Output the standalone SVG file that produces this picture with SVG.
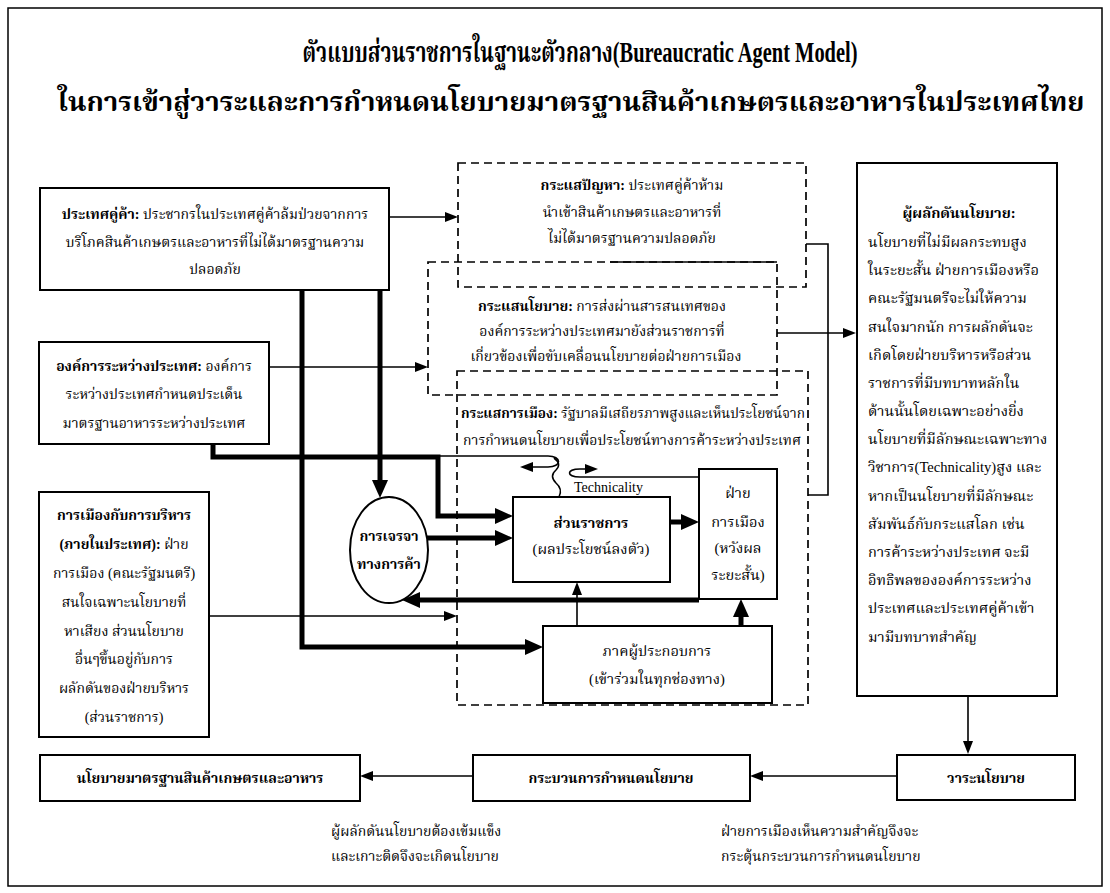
<svg xmlns="http://www.w3.org/2000/svg" width="1110" height="893" viewBox="0 0 1110 893">
<defs>
<style>
.t{font-family:'Liberation Serif','Noto Serif Thai','Noto Sans Thai','DejaVu Serif',serif;font-size:14px;fill:#000}
.c{text-anchor:middle}
.b{font-weight:bold}
.k{font-size:14.6px}
.ttl{font-size:29px;font-weight:bold}
.ttl2{font-size:27px;font-weight:bold}
.box{fill:#fff;stroke:#000;stroke-width:2}
.dash{fill:none;stroke:#000;stroke-width:1.7;stroke-dasharray:8,5}
.thin{fill:none;stroke:#000;stroke-width:1.6}
.thick{fill:none;stroke:#000;stroke-width:5}
</style>
<marker id="ah" markerUnits="userSpaceOnUse" markerWidth="13" markerHeight="11" refX="0" refY="5" orient="auto" viewBox="0 0 13 10"><path d="M0,0L13,5L0,10z"/></marker>
<marker id="ahb" markerUnits="userSpaceOnUse" markerWidth="18" markerHeight="16" refX="0" refY="8" orient="auto" viewBox="0 0 18 16"><path d="M0,0L18,8L0,16z"/></marker>
</defs>
<rect x="0" y="0" width="1110" height="893" fill="#fff"/>
<rect x="8" y="8" width="1094" height="878" fill="none" stroke="#000" stroke-width="1.5"/>
<g id="title">
<text class="t c ttl" x="580" y="62" textLength="555" lengthAdjust="spacingAndGlyphs">ตัวแบบส่วนราชการในฐานะตัวกลาง(Bureaucratic Agent Model)</text>
<text class="t c ttl2" x="571" y="111" textLength="1027" lengthAdjust="spacingAndGlyphs">ในการเข้าสู่วาระและการกำหนดนโยบายมาตรฐานสินค้าเกษตรและอาหารในประเทศไทย</text>
</g>
<g id="stream-problem">
<rect class="dash" x="458" y="163" width="348" height="124"/>
<text class="t c" x="632" y="190"><tspan class="b">กระแสปัญหา:</tspan> ประเทศคู่ค้าห้าม</text>
<text class="t c" x="632" y="217">นำเข้าสินค้าเกษตรและอาหารที่</text>
<text class="t c" x="632" y="243">ไม่ได้มาตรฐานความปลอดภัย</text>
</g>
<g id="stream-policy">
<rect class="dash" x="428" y="262" width="349" height="133"/>
<line class="thin" x1="610" y1="262" x2="777" y2="262"/>
<text class="t c" x="602" y="311"><tspan class="b">กระแสนโยบาย:</tspan> การส่งผ่านสารสนเทศของ</text>
<text class="t c" x="602" y="336">องค์การระหว่างประเทศมายังส่วนราชการที่</text>
<text class="t c" x="606" y="361">เกี่ยวข้องเพื่อขับเคลื่อนนโยบายต่อฝ่ายการเมือง</text>
</g>
<g id="stream-politics">
<rect class="dash" x="457" y="371" width="351" height="334"/>
<text class="t c" x="633" y="418" textLength="344" lengthAdjust="spacingAndGlyphs"><tspan class="b">กระแสการเมือง:</tspan> รัฐบาลมีเสถียรภาพสูงและเห็นประโยชน์จาก</text>
<text class="t c" x="632" y="445" textLength="338" lengthAdjust="spacingAndGlyphs">การกำหนดนโยบายเพื่อประโยชน์ทางการค้าระหว่างประเทศ</text>
</g>
<g id="trade-partner">
<rect class="box" x="40" y="188" width="349" height="102"/>
<text class="t c" x="215" y="219"><tspan class="b">ประเทศคู่ค้า:</tspan> ประชากรในประเทศคู่ค้าล้มป่วยจากการ</text>
<text class="t c" x="215" y="247">บริโภคสินค้าเกษตรและอาหารที่ไม่ได้มาตรฐานความ</text>
<text class="t c" x="215" y="274">ปลอดภัย</text>
</g>
<g id="intl-org">
<rect class="box" x="39" y="342" width="230" height="102"/>
<text class="t c" x="154" y="371"><tspan class="b">องค์การระหว่างประเทศ:</tspan> องค์การ</text>
<text class="t c" x="154" y="399">ระหว่างประเทศกำหนดประเด็น</text>
<text class="t c" x="154" y="428">มาตรฐานอาหารระหว่างประเทศ</text>
</g>
<g id="domestic">
<rect class="box" x="39" y="492" width="170" height="245"/>
<text class="t c b" x="124" y="520">การเมืองกับการบริหาร</text>
<text class="t c" x="124" y="549"><tspan class="b">(ภายในประเทศ):</tspan> ฝ่าย</text>
<text class="t c" x="124" y="578">การเมือง (คณะรัฐมนตรี)</text>
<text class="t c" x="124" y="607">สนใจเฉพาะนโยบายที่</text>
<text class="t c" x="124" y="636">หาเสียง ส่วนนโยบาย</text>
<text class="t c" x="124" y="664">อื่นๆขึ้นอยู่กับการ</text>
<text class="t c" x="124" y="693">ผลักดันของฝ่ายบริหาร</text>
<text class="t c" x="124" y="722">(ส่วนราชการ)</text>
</g>
<g id="negotiation">
<ellipse cx="389" cy="550" rx="39" ry="53" fill="#fff" stroke="#000" stroke-width="2"/>
<text class="t c b" x="389" y="541">การเจรจา</text>
<text class="t c b" x="389" y="569">ทางการค้า</text>
</g>
<g id="bureaucracy">
<rect class="box" x="513" y="497" width="157" height="85"/>
<text class="t c b k" x="591" y="528">ส่วนราชการ</text>
<text class="t c k" x="591" y="554">(ผลประโยชน์ลงตัว)</text>
</g>
<g id="politician">
<rect class="box" x="699" y="469" width="78" height="130"/>
<text class="t c k" x="738" y="498">ฝ่าย</text>
<text class="t c k" x="738" y="527">การเมือง</text>
<text class="t c k" x="738" y="553">(หวังผล</text>
<text class="t c k" x="738" y="580">ระยะสั้น)</text>
</g>
<g id="business">
<rect class="box" x="543" y="626" width="229" height="77"/>
<text class="t c k" x="657" y="656">ภาคผู้ประกอบการ</text>
<text class="t c k" x="657" y="684">(เข้าร่วมในทุกช่องทาง)</text>
</g>
<g id="entrepreneur">
<rect class="box" x="857" y="163" width="200" height="533"/>
<text class="t c b k" x="959" y="218">ผู้ผลักดันนโยบาย:</text>
<text class="t k" x="868" y="247">นโยบายที่ไม่มีผลกระทบสูง</text>
<text class="t k" x="868" y="275">ในระยะสั้น ฝ่ายการเมืองหรือ</text>
<text class="t k" x="868" y="303">คณะรัฐมนตรีจะไม่ให้ความ</text>
<text class="t k" x="868" y="332">สนใจมากนัก การผลักดันจะ</text>
<text class="t k" x="868" y="360">เกิดโดยฝ่ายบริหารหรือส่วน</text>
<text class="t k" x="868" y="388">ราชการที่มีบทบาทหลักใน</text>
<text class="t k" x="868" y="416">ด้านนั้นโดยเฉพาะอย่างยิ่ง</text>
<text class="t k" x="868" y="444">นโยบายที่มีลักษณะเฉพาะทาง</text>
<text class="t k" x="868" y="472">วิชาการ(Technicality)สูง  และ</text>
<text class="t k" x="868" y="501">หากเป็นนโยบายที่มีลักษณะ</text>
<text class="t k" x="868" y="529">สัมพันธ์กับกระแสโลก เช่น</text>
<text class="t k" x="868" y="557">การค้าระหว่างประเทศ จะมี</text>
<text class="t k" x="868" y="585">อิทธิพลขององค์การระหว่าง</text>
<text class="t k" x="868" y="613">ประเทศและประเทศคู่ค้าเข้า</text>
<text class="t k" x="868" y="642">มามีบทบาทสำคัญ</text>
</g>
<g id="agenda">
<rect class="box" x="897" y="755" width="178" height="45"/>
<text class="t c b" x="986" y="783">วาระนโยบาย</text>
</g>
<g id="process">
<rect class="box" x="473" y="755" width="277" height="46"/>
<text class="t c b" x="611" y="783">กระบวนการกำหนดนโยบาย</text>
</g>
<g id="policy">
<rect class="box" x="40" y="755" width="320" height="46"/>
<text class="t c b" x="200" y="783">นโยบายมาตรฐานสินค้าเกษตรและอาหาร</text>
</g>
<g id="notes">
<text class="t" x="331" y="836">ผู้ผลักดันนโยบายต้องเข้มแข็ง</text>
<text class="t" x="331" y="861">และเกาะติดจึงจะเกิดนโยบาย</text>
<text class="t" x="721" y="836">ฝ่ายการเมืองเห็นความสำคัญจึงจะ</text>
<text class="t" x="721" y="861">กระตุ้นกระบวนการกำหนดนโยบาย</text>
<text class="t" x="574" y="492" style="font-size:14px">Technicality</text>
</g>
<g id="connectors">
<path class="thin" d="M389,217H445" marker-end="url(#ah)"/>
<path class="thin" d="M269,367H415" marker-end="url(#ah)"/>
<path class="thin" d="M209,616H444" marker-end="url(#ah)"/>
<path class="thin" d="M806,244H828V495H808"/>
<path class="thin" d="M777,333H843" marker-end="url(#ah)"/>
<path class="thin" d="M968,696V741" stroke-width="2" marker-end="url(#ah)"/>
<path class="thin" d="M897,776H763" marker-end="url(#ah)"/>
<path class="thin" d="M473,776H373" marker-end="url(#ah)"/>
<path class="thin" d="M577,626V595" marker-end="url(#ah)"/>
<path class="thick" d="M302,290V647H525" marker-end="url(#ahb)"/>
<path class="thick" d="M380,290V480" marker-end="url(#ahb)"/>
<path class="thick" d="M213,444V457H438V516H495" marker-end="url(#ahb)"/>
<path class="thick" d="M427,538H495" marker-end="url(#ahb)"/>
<path class="thick" d="M670,522H681" marker-end="url(#ahb)"/>
<path class="thick" d="M699,600H420" marker-end="url(#ahb)"/>
<path class="thick" d="M741,626V617" marker-end="url(#ahb)"/>
<path class="thin" d="M438,456H548C562,456 562,467 548,467H533" marker-end="url(#ah)"/>
<path class="thin" d="M554,458q8,6 2,12q-7,6 0,13q7,6 3,14"/>
<path class="thin" d="M698,477H580C566,477 566,469 580,469H585" marker-end="url(#ah)"/>
</g>
</svg>
